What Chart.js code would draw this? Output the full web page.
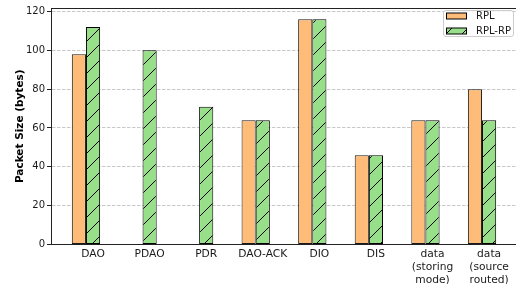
<!DOCTYPE html>
<html>
<head>
<meta charset="utf-8">
<script src="https://cdn.jsdelivr.net/npm/chart.js@4.4.1/dist/chart.umd.min.js"></script>
<style>
  html, body { margin: 0; padding: 0; width: 516px; height: 284px; overflow: hidden; background: #ffffff; }
  #wrap { position: absolute; left: 0; top: 0; width: 522px; height: 300px; }
</style>
</head>
<body>
<div id="wrap"><canvas id="c" width="522" height="300"></canvas></div>
<script>
const categories = ["DAO", "PDAO", "PDR", "DAO-ACK", "DIO", "DIS", ["data", "(storing", "mode)"], ["data", "(source", "routed)"]];
const seriesNames = ["RPL", "RPL-RP"];
const rplValues   = [98, 0, 0, 64, 116, 46, 64, 80];
const rplRpValues = [112, 100, 71, 64, 116, 46, 64, 64];
const yTickValues = [0, 20, 40, 60, 80, 100, 120];
const yMax = 121.8;

const ORANGE = '#ffbb78';
const GREEN = '#98df8a';
const FONT = "'DejaVu Sans', sans-serif";

function makeHatch() {
  const s = 16;
  const pc = document.createElement('canvas');
  pc.width = s; pc.height = s;
  const p = pc.getContext('2d');
  p.fillStyle = GREEN;
  p.fillRect(0, 0, s, s);
  p.strokeStyle = '#000000';
  p.lineWidth = 1;
  p.lineCap = 'square';
  p.beginPath();
  p.moveTo(0, s); p.lineTo(s, 0);
  p.moveTo(-2, 2); p.lineTo(2, -2);
  p.moveTo(s - 2, s + 2); p.lineTo(s + 2, s - 2);
  p.stroke();
  return document.getElementById('c').getContext('2d').createPattern(pc, 'repeat');
}
const hatch = makeHatch();

const toPoints = arr => arr.map((v, i) => ({ x: i, y: v }));

const framePlugin = {
  id: 'frame',
  afterDatasetsDraw(chart) {
    const { ctx, chartArea: a } = chart;
    ctx.save();
    ctx.strokeStyle = '#222222';
    ctx.lineWidth = 1;
    ctx.beginPath();
    ctx.moveTo(a.left, a.top + 0.5);
    ctx.lineTo(a.right, a.top + 0.5);
    ctx.lineTo(a.right - 0.5, a.bottom);
    ctx.stroke();
    ctx.restore();
  },
  afterDraw(chart) {
    const ctx = chart.ctx;
    ctx.save();
    ctx.fillStyle = 'rgba(255,255,255,0.8)';
    ctx.strokeStyle = '#cccccc';
    ctx.lineWidth = 1;
    ctx.beginPath();
    ctx.roundRect(443.5, 10.5, 70, 26, 2.5);
    ctx.fill();
    ctx.stroke();
    const fills = [ORANGE, hatch];
    const ys = [12.5, 27.5];
    ctx.font = '10px ' + FONT;
    ctx.textBaseline = 'middle';
    ctx.textAlign = 'left';
    for (let i = 0; i < 2; i++) {
      ctx.fillStyle = fills[i];
      ctx.fillRect(446.5, ys[i] + 0.5, 20, 6);
      ctx.strokeStyle = '#000000';
      ctx.strokeRect(446.5, ys[i] + 0.5, 20, 6);
      ctx.fillStyle = '#1a1a1a';
      ctx.fillText(seriesNames[i], 476, ys[i] + 3.5);
    }
    ctx.restore();
  }
};

new Chart(document.getElementById('c'), {
  type: 'bar',
  data: {
    datasets: [
      { label: seriesNames[0], data: toPoints(rplValues), backgroundColor: ORANGE, borderColor: '#1a1a1a', borderWidth: 1, borderSkipped: false },
      { label: seriesNames[1], data: toPoints(rplRpValues), backgroundColor: hatch, borderColor: '#000000', borderWidth: 1, borderSkipped: false }
    ]
  },
  options: {
    responsive: false,
    animation: false,
    devicePixelRatio: 1,
    layout: { padding: { left: 0, right: 5, top: 4, bottom: 0 } },
    datasets: { bar: { categoryPercentage: 0.5, barPercentage: 1.0 } },
    plugins: { legend: { display: false }, tooltip: { enabled: false } },
    scales: {
      x: {
        type: 'linear',
        min: -0.618,
        max: 7.618,
        offset: false,
        afterBuildTicks(scale) { scale.ticks = categories.map((_, i) => ({ value: i + 0.125 })); },
        afterFit(scale) { scale.height = 55.5; },
        ticks: {
          autoSkip: false, maxRotation: 0, minRotation: 0, padding: 3,
          color: '#1a1a1a',
          font: { family: FONT, size: 10.7, lineHeight: 1.22 },
          callback: (v, i) => categories[i]
        },
        grid: { drawOnChartArea: false, drawTicks: false },
        border: { display: true, color: '#222222', width: 1 }
      },
      y: {
        type: 'linear',
        min: 0,
        max: yMax,
        afterBuildTicks(scale) { scale.ticks = yTickValues.map(v => ({ value: v })); },
        afterFit(scale) { scale.width = 51; },
        ticks: { padding: 2, color: '#1a1a1a', font: { family: FONT, size: 10 } },
        grid: {
          color: '#c8c8c8', lineWidth: 1,
          drawTicks: true, tickLength: 4, tickColor: '#222222', tickBorderDash: [], tickWidth: 1
        },
        border: { display: true, color: '#222222', width: 1, dash: [3.5, 1.5] },
        title: {
          display: true, text: 'Packet Size (bytes)', color: '#000000',
          font: { family: FONT, size: 10.5, weight: 'bold' },
          padding: { top: 13.5, bottom: 0 }
        }
      }
    }
  },
  plugins: [framePlugin]
});
</script>
</body>
</html>
